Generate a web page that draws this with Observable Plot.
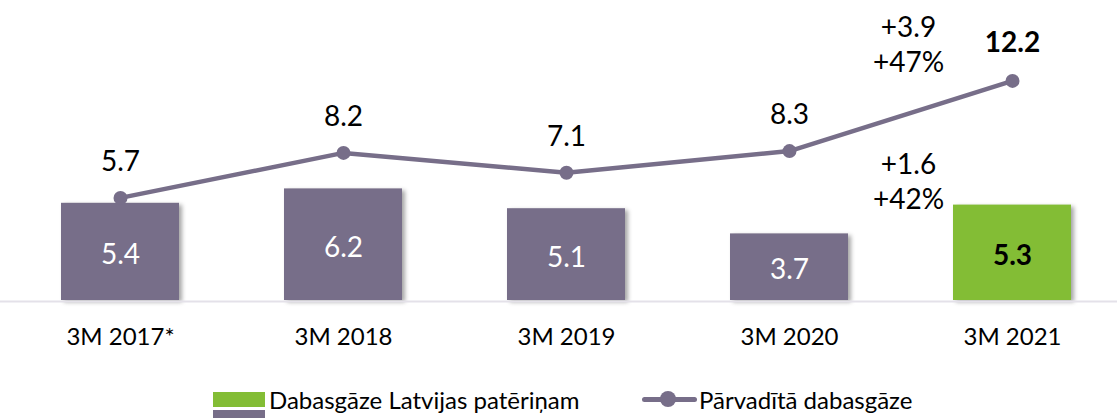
<!DOCTYPE html>
<html>
<head>
<meta charset="utf-8">
<script src="https://cdn.jsdelivr.net/npm/d3@7"></script>
<script src="https://cdn.jsdelivr.net/npm/@observablehq/plot@0.6"></script>
<style>
  body { margin: 0; background: #fff; font-family: Lato, "Open Sans", sans-serif; }
  #chart svg { display: block; }
  #chart g[aria-label="bar"] rect { filter: drop-shadow(3px 2px 2px rgba(0,0,0,0.35)); }
  .legend { position: relative; width: 1117px; height: 48px; font-family: Lato, sans-serif; font-size: 24px; color: #000; }
  .legend .sw { position: absolute; }
  .legend .lbl { position: absolute; white-space: nowrap; line-height: 1; }
</style>
</head>
<body>
<div id="chart"></div>
<div class="legend" id="legend"></div>
<script>
// Data
const periods = ["3M 2017*", "3M 2018", "3M 2019", "3M 2020", "3M 2021"];
const consumption = [5.4, 6.2, 5.1, 3.7, 5.3];      // Dabasgāze Latvijas patēriņam (bars)
const transported = [5.7, 8.2, 7.1, 8.3, 12.2];     // Pārvadītā dabasgāze (line)
const highlightPeriod = "3M 2021";
const lineChange = ["+3.9", "+47%"];
const barChange = ["+1.6", "+42%"];
const legendLabels = ["Dabasgāze Latvijas patēriņam", "Pārvadītā dabasgāze"];

const purple = "#776E89";
const green = "#83BD35";

const bars = periods.map((p, i) => ({period: p, value: consumption[i], hi: p === highlightPeriod}));
const line = periods.map((p, i) => ({period: p, value: transported[i], hi: p === highlightPeriod}));
const lastLine = line[line.length - 1];
const lastBar = bars[bars.length - 1];

const plot = Plot.plot({
  width: 1117,
  height: 370,
  marginTop: 0,
  marginBottom: 70,
  marginLeft: 0,
  marginRight: 0,
  style: {fontFamily: "Lato, sans-serif", background: "#fff", overflow: "visible"},
  x: {domain: periods, paddingInner: 0.4715, paddingOuter: 0.237, align: 0.566, label: null},
  y: {domain: [0, 300 / 18], axis: null},
  marks: [
    Plot.barY(bars, {x: "period", y: "value", fill: d => d.hi ? green : purple}),
    Plot.ruleY([0], {stroke: "#E4E1E9", strokeWidth: 2, dy: 1}),
    Plot.axisX({tickSize: 0, tickPadding: 27, fontSize: 24, fill: "#000", label: null}),
    Plot.text(bars.filter(d => !d.hi), {x: "period", y: d => d.value / 2, text: d => d.value.toFixed(1), dy: 3,
      fill: "#fff", fontSize: 28}),
    Plot.text(bars.filter(d => d.hi), {x: "period", y: d => d.value / 2, text: d => d.value.toFixed(1), dy: 3,
      fill: "#000", fontWeight: "bold", fontSize: 28}),
    Plot.line(line, {x: "period", y: "value", stroke: purple, strokeWidth: 4.5}),
    Plot.dot(line, {x: "period", y: "value", r: 7, fill: purple}),
    Plot.text(line.filter(d => !d.hi), {x: "period", y: "value", text: d => d.value.toFixed(1), dy: -36,
      fill: "#000", fontSize: 28}),
    Plot.text(line.filter(d => d.hi), {x: "period", y: "value", text: d => d.value.toFixed(1), dy: -38,
      fill: "#000", fontWeight: "bold", fontSize: 28}),
    Plot.text([lastLine], {x: "period", y: "value", text: () => lineChange.join("\n"),
      dx: -104, dy: -38, lineHeight: 1.25, fontSize: 28, fill: "#000"}),
    Plot.text([lastBar], {x: "period", y: "value", text: () => barChange.join("\n"),
      dx: -104, dy: -25, lineHeight: 1.25, fontSize: 28, fill: "#000"})
  ]
});
document.getElementById("chart").appendChild(plot);

// Legend (HTML, below the SVG)
const lg = document.getElementById("legend");
lg.innerHTML = `
  <div class="sw" style="left:213px;top:22px;width:52px;height:15px;background:${green}"></div>
  <div class="sw" style="left:213px;top:40px;width:52px;height:10px;background:${purple}"></div>
  <div class="lbl" style="left:269px;top:18px;">${legendLabels[0]}</div>
  <div class="sw" style="left:642px;top:27px;width:55px;height:5px;border-radius:3px;background:${purple}"></div>
  <div class="sw" style="left:660px;top:21px;width:16px;height:16px;border-radius:50%;background:${purple}"></div>
  <div class="lbl" style="left:699px;top:18px;">${legendLabels[1]}</div>
`;
</script>
</body>
</html>
